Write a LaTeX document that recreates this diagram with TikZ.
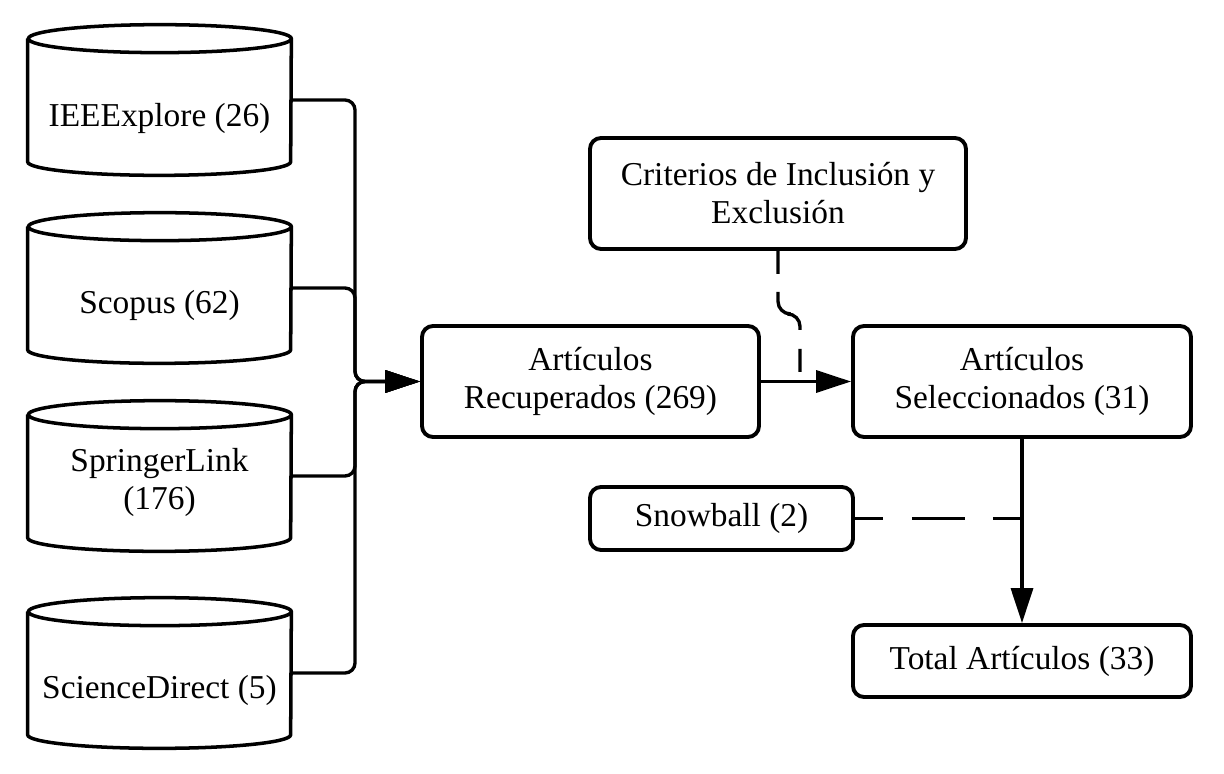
\documentclass[tikz,border=0pt]{standalone}
\usepackage{fontspec}
\setmainfont{Liberation Serif}
\usetikzlibrary{arrows.meta}

\tikzset{
  box/.style={draw, line width=2.2pt, rounded corners=0.22cm, align=center, inner sep=0pt},
  db/.style={minimum width=5.26cm, minimum height=3cm, inner sep=0pt},
  dbtext/.style={align=center},
  link/.style={line width=1.9pt, rounded corners=0.2cm, -{Triangle[length=0.7cm, width=0.44cm]}},
  dashlink/.style={line width=1.9pt, rounded corners=0.25cm},
}

\begin{document}
\begin{tikzpicture}[font=\fontsize{19pt}{21.6pt}\selectfont]
            \useasboundingbox (0,0) rectangle (24.48,-15.48);

            % Databases
            \node[db, label={[dbtext, yshift=-0.36cm]center:IEEExplore (26)}] (ieee) at (3.19,-2.0) {};
            \node[db, label={[dbtext, yshift=-0.34cm]center:Scopus (62)}] (scopus) at (3.19,-5.76) {};
            \node[db, label={[dbtext, yshift=-0.12cm]center:SpringerLink\\(176)}] (springer) at (3.19,-9.52) {};
            \node[db, label={[dbtext, yshift=-0.34cm]center:ScienceDirect (5)}] (science) at (3.19,-13.46) {};

            \foreach \n in {ieee, scopus, springer, science}
              \draw[line width=2pt] ([yshift=-0.28cm]\n.north west) -- ([yshift=0.27cm]\n.south west)
                arc[start angle=180, end angle=360, x radius=2.63cm, y radius=0.27cm]
                -- ([yshift=-0.28cm]\n.north east)
                arc[start angle=0, end angle=360, x radius=2.63cm, y radius=0.28cm];

            % Boxes
            \node[box, minimum width=6.74cm, minimum height=2.22cm] (rec) at (11.81,-7.63) {Artículos\\Recuperados (269)};
            \node[box, minimum width=6.76cm, minimum height=2.22cm] (sel) at (20.44,-7.63) {Artículos\\Seleccionados (31)};
            \node[box, minimum width=7.52cm, minimum height=2.22cm] (crit) at (15.56,-3.87) {Criterios de Inclusión y\\Exclusión};
            \node[box, minimum width=5.26cm, minimum height=1.26cm] (snow) at (14.43,-10.37) {Snowball (2)};
            \node[box, minimum width=6.76cm, minimum height=1.44cm] (total) at (20.44,-13.22) {Total Artículos (33)};

            % Connectors
            \coordinate (bus) at (7.1,-7.63);
            \draw[link] (ieee.east) -| (bus) -- (rec.west);
            \draw[link] (scopus.east) -| (bus) -- (rec.west);
            \draw[link] (springer.east) -| (bus) -- (rec.west);
            \draw[link] (science.east) -| (bus) -- (rec.west);

            \draw[link] (rec) -- (sel);
            \coordinate (join) at (16.0,-7.63);
            \draw[dashlink, dash pattern=on 0.46cm off 0.36cm on 1.1cm off 0.38cm] (crit.south) -- ++(0,-1.26) -| (join);

            \draw[link] (sel) -- (total);
            \draw[dashlink, dash pattern=on 0.56cm off 0.58cm on 1.06cm off 0.56cm] (snow.east) -- (snow.east -| sel.south);
\end{tikzpicture}
\end{document}
